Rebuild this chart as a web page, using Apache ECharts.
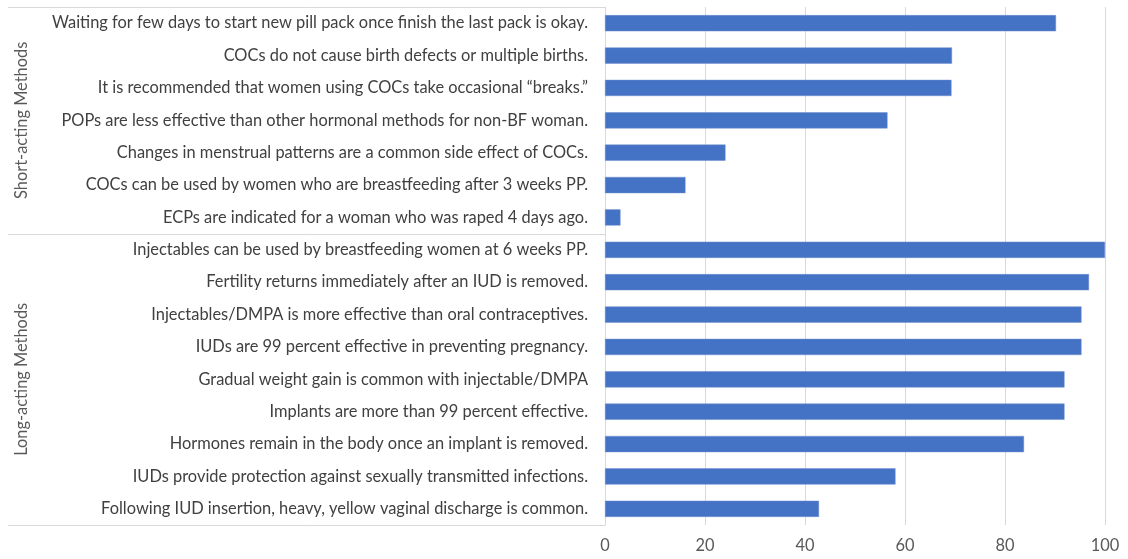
<!DOCTYPE html>
<html>
<head>
<meta charset="utf-8">
<script src="https://cdn.jsdelivr.net/npm/echarts@6/dist/echarts.min.js"></script>
<style>html,body{margin:0;padding:0;background:#fff}#c{width:1128px;height:559px}</style>
</head>
<body>
<div id="c"></div>
<script>
const shortCategories = [
  "Waiting for few days to start new pill pack once finish the last pack is okay.",
  "COCs do not cause birth defects or multiple births.",
  "It is recommended that women using COCs take occasional \u201cbreaks.\u201d",
  "POPs are less effective than other hormonal methods for non-BF woman.",
  "Changes in menstrual patterns are a common side effect of COCs.",
  "COCs can be used by women who are breastfeeding after 3 weeks PP.",
  "ECPs are indicated for a woman who was raped 4 days ago."
];
const shortValues = [90.2, 69.4, 69.3, 56.5, 24.1, 16.1, 3.1];
const longCategories = [
  "Injectables can be used by breastfeeding women at 6 weeks PP.",
  "Fertility returns immediately after an IUD is removed.",
  "Injectables/DMPA is more effective than oral contraceptives.",
  "IUDs are 99 percent effective in preventing pregnancy.",
  "Gradual weight gain is common with injectable/DMPA",
  "Implants are more than 99 percent effective.",
  "Hormones remain in the body once an implant is removed.",
  "IUDs provide protection against sexually transmitted infections.",
  "Following IUD insertion, heavy, yellow vaginal discharge is common."
];
const longValues = [100, 96.8, 95.3, 95.3, 91.9, 91.9, 83.8, 58.1, 42.8];
const groupNames = ["Short-acting Methods", "Long-acting Methods"];
const xTicks = [0, 20, 40, 60, 80, 100];

const categories = shortCategories.concat(longCategories);
const values = shortValues.concat(longValues);
const FONT = "Lato";
const FS = 16.4;

const chart = echarts.init(document.getElementById('c'), null, {renderer: 'canvas'});
const option = {
  animation: false,
  backgroundColor: '#ffffff',
  grid: {left: 605, right: 23, top: 7, bottom: 34, containLabel: false},
  xAxis: {
    type: 'value', min: xTicks[0], max: xTicks[xTicks.length - 1], interval: 20,
    axisLine: {show: false}, axisTick: {show: false},
    splitLine: {show: true, lineStyle: {color: '#d9d9d9', width: 1}},
    axisLabel: {color: '#595959', fontFamily: FONT, fontSize: FS, margin: 13}
  },
  yAxis: {
    type: 'category', data: categories, inverse: true,
    axisLine: {show: true, lineStyle: {color: '#d9d9d9', width: 1}},
    axisTick: {show: false},
    axisLabel: {color: '#404040', fontFamily: FONT, fontSize: FS, margin: 17, interval: 0}
  },
  series: [{
    type: 'bar', data: values, barWidth: '50%',
    itemStyle: {color: '#4472C4', borderColor: '#6f8fd0', borderWidth: 0.5}
  }]
};
chart.setOption(option);

function drawGroups() {
  const yOf = i => chart.convertToPixel({yAxisIndex: 0}, i);
  const band = yOf(1) - yOf(0);
  const top = yOf(0) - band / 2;
  const sep = yOf(shortCategories.length - 1) + band / 2;
  const bottom = yOf(categories.length - 1) + band / 2;
  const axisX = chart.convertToPixel({xAxisIndex: 0}, 0);
  const left = 8;
  const line = y => ({type: 'line', shape: {x1: left, y1: y, x2: axisX, y2: y},
    style: {stroke: '#d9d9d9', lineWidth: 1}, silent: true});
  const label = (txt, yc) => ({type: 'text', x: 22, y: yc, rotation: Math.PI / 2,
    style: {text: txt, fill: '#595959', font: FS + 'px ' + FONT, align: 'center', verticalAlign: 'middle'}, silent: true});
  chart.setOption({graphic: [
    line(Math.round(top) + 0.5), line(Math.round(sep) + 0.5), line(Math.round(bottom) + 0.5),
    label(groupNames[0], (top + sep) / 2), label(groupNames[1], (sep + bottom) / 2)
  ]});
}
drawGroups();
</script>
</body>
</html>
